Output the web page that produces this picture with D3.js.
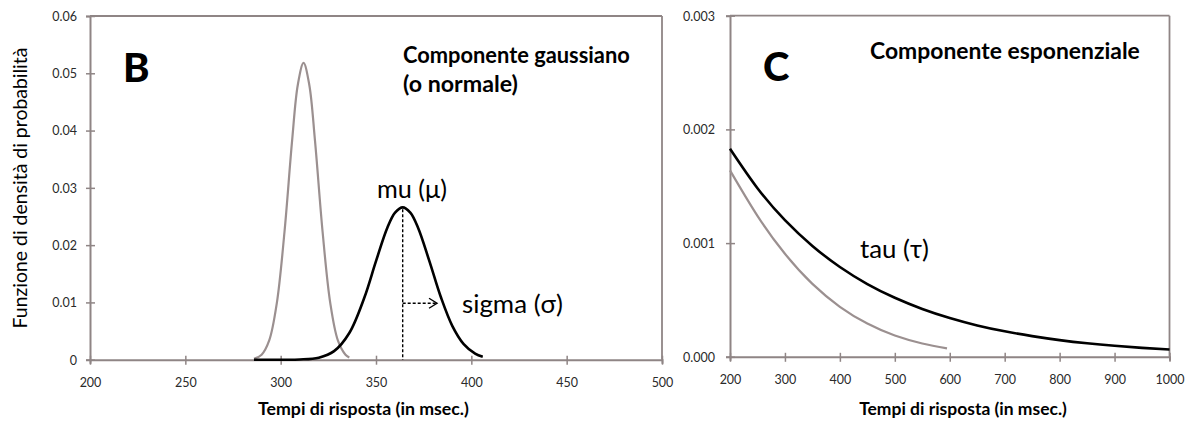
<!DOCTYPE html>
<html><head><meta charset="utf-8">
<script src="https://cdn.jsdelivr.net/npm/d3@7"></script>
<style>body{margin:0;background:#fff} svg{display:block} text{font-family:Lato,'Open Sans',sans-serif}</style>
</head><body><svg id="c" width="1189" height="423"></svg>
<script>
// ---- Panel B data (gaussian component) ----
const gaussGreyX = [286, 290, 294, 298, 302, 306, 309, 312, 315, 318, 322, 326, 330, 334, 336];
const gaussGreyY = [0.00017, 0.00088, 0.00337, 0.00992, 0.02229, 0.03823, 0.04801, 0.0518, 0.04801, 0.03823, 0.02229, 0.00992, 0.00337, 0.00088, 0.0004];
const gaussBlackX = [286, 300, 310, 320, 328, 336, 344, 350, 356, 360, 364, 368, 372, 378, 384, 390, 396, 402, 406];
const gaussBlackY = [0, 0.000003, 0.00004, 0.00036, 0.00149, 0.00466, 0.01094, 0.01721, 0.02307, 0.02567, 0.0266, 0.02567, 0.02307, 0.01721, 0.01094, 0.00592, 0.00273, 0.00107, 0.00053];
const muValue = 364;
const muPeak = 0.0266;
const sigmaArrowEnd = 382;
const sigmaArrowLevel = 0.00985;
const xTicksB = [200, 250, 300, 350, 400, 450, 500];
const yTicksB = [0, 0.01, 0.02, 0.03, 0.04, 0.05, 0.06];
const yTickLabelsB = ["0", "0.01", "0.02", "0.03", "0.04", "0.05", "0.06"];

// ---- Panel C data (exponential component) ----
const expGreyX = [200, 250, 300, 350, 400, 450, 500, 550, 595];
const expGreyY = [0.00164, 0.00124, 0.000906, 0.000641, 0.00044, 0.000292, 0.000187, 0.000117, 0.000074];
const expBlackX = [200, 250, 300, 350, 400, 450, 500, 550, 600, 650, 700, 750, 800, 850, 900, 950, 1000];
const expBlackY = [0.00183, 0.001483, 0.001202, 0.000975, 0.00079, 0.00064, 0.000519, 0.000421, 0.000341, 0.000276, 0.000224, 0.000182, 0.000147, 0.000119, 0.0000968, 0.0000785, 0.0000636];
const xTicksC = [200, 300, 400, 500, 600, 700, 800, 900, 1000];
const yTicksC = [0, 0.001, 0.002, 0.003];
const yTickLabelsC = ["0.000", "0.001", "0.002", "0.003"];

const svg = d3.select("#c");
const AX = "#8f8585", GREY = "#9b9090", TXT = "#2a2a2a";

function fit(sel, w) {
  const fs = parseFloat(sel.attr("font-size"));
  const l = sel.node().getComputedTextLength();
  sel.attr("font-size", fs * w / l);
  return sel;
}

function panel(xs, ys, xt, yt, ytl, yLabelX) {
  const g = svg.append("g");
  const [x0, x1] = xs.range(), [yb, yt0] = ys.range();
  g.append("line").attr("x1", x0).attr("x2", x1).attr("y1", yt0).attr("y2", yt0).attr("stroke", AX).attr("stroke-width", 1.8);
  g.append("line").attr("x1", x1).attr("x2", x1).attr("y1", yt0).attr("y2", yb).attr("stroke", AX).attr("stroke-width", 1.8);
  const ax = g.append("g").attr("transform", `translate(0,${yb})`)
    .call(d3.axisBottom(xs).tickValues(xt).tickSize(4).tickFormat(d3.format("d")));
  const ay = g.append("g").attr("transform", `translate(${x0},0)`)
    .call(d3.axisLeft(ys).tickValues(yt).tickSize(4).tickFormat((d, i) => ytl[i]));
  [ax, ay].forEach(a => {
    a.select(".domain").attr("stroke", AX).attr("stroke-width", 2);
    a.selectAll(".tick line").attr("stroke", AX).attr("stroke-width", 1.5);
    a.selectAll(".tick text").attr("fill", TXT).attr("font-size", 12.5).attr("font-family", "Lato, 'Open Sans', sans-serif");
  });
  ax.selectAll(".tick line").attr("y1", -4).attr("y2", 5);
  ay.selectAll(".tick line").attr("x1", 5).attr("x2", -4);
  ax.selectAll(".tick text").attr("y", 23).attr("dy", "0.35em");
  ay.selectAll(".tick text").attr("x", yLabelX).attr("dy", "0.35em");
  return g;
}

// ---- Panel B ----
const xB = d3.scaleLinear([200, 500], [90, 662]);
const yB = d3.scaleLinear([0, 0.06], [359.7, 16]);
panel(xB, yB, xTicksB, yTicksB, yTickLabelsB, -13);

const lineB = d3.line().x(d => xB(d[0])).y(d => yB(d[1])).curve(d3.curveCatmullRom);
svg.append("path").attr("d", lineB(gaussGreyX.map((x, i) => [x, gaussGreyY[i]])))
  .attr("fill", "none").attr("stroke", GREY).attr("stroke-width", 2.2);
svg.append("path").attr("d", lineB(gaussBlackX.map((x, i) => [x, gaussBlackY[i]])))
  .attr("fill", "none").attr("stroke", "#000").attr("stroke-width", 2.6);

svg.append("line").attr("x1", xB(muValue)).attr("x2", xB(muValue)).attr("y1", yB(muPeak) + 2).attr("y2", yB(0))
  .attr("stroke", "#000").attr("stroke-width", 1.4).attr("stroke-dasharray", "3,2");
const ay0 = yB(sigmaArrowLevel), ax1 = xB(sigmaArrowEnd);
svg.append("line").attr("x1", xB(muValue)).attr("x2", ax1).attr("y1", ay0).attr("y2", ay0)
  .attr("stroke", "#000").attr("stroke-width", 1.4).attr("stroke-dasharray", "3,2");
svg.append("path").attr("d", `M${ax1 - 8},${ay0 - 5}L${ax1},${ay0}L${ax1 - 8},${ay0 + 5}`)
  .attr("fill", "none").attr("stroke", "#000").attr("stroke-width", 1.4);

svg.append("text").text("B").attr("x", 123).attr("y", 82).attr("font-size", 40).attr("font-weight", 900);
fit(svg.append("text").text("Componente gaussiano").attr("x", 403).attr("y", 63).attr("font-size", 20).attr("font-weight", 700), 227);
fit(svg.append("text").text("(o normale)").attr("x", 403).attr("y", 92).attr("font-size", 20).attr("font-weight", 700), 115);
fit(svg.append("text").text("mu (μ)").attr("x", 377).attr("y", 198).attr("font-size", 20), 70);
fit(svg.append("text").text("sigma (σ)").attr("x", 462).attr("y", 313).attr("font-size", 20), 101);
fit(svg.append("text").text("Tempi di risposta (in msec.)").attr("x", 363.5).attr("y", 415).attr("text-anchor", "middle").attr("font-size", 14).attr("font-weight", 700), 211);
fit(svg.append("text").text("Funzione di densità di probabilità").attr("transform", "translate(20,188) rotate(-90)")
  .attr("text-anchor", "middle").attr("dy", "0.35em").attr("font-size", 15), 281);

// ---- Panel C ----
const xC = d3.scaleLinear([200, 1000], [730, 1169.5]);
const yC = d3.scaleLinear([0, 0.003], [356.8, 15.7]);
panel(xC, yC, xTicksC, yTicksC, yTickLabelsC, -15);

const lineC = d3.line().x(d => xC(d[0])).y(d => yC(d[1])).curve(d3.curveNatural);
svg.append("path").attr("d", lineC(expGreyX.map((x, i) => [x, expGreyY[i]])))
  .attr("fill", "none").attr("stroke", GREY).attr("stroke-width", 2.2);
svg.append("path").attr("d", lineC(expBlackX.map((x, i) => [x, expBlackY[i]])))
  .attr("fill", "none").attr("stroke", "#000").attr("stroke-width", 2.6);

svg.append("text").text("C").attr("x", 763).attr("y", 81).attr("font-size", 40).attr("font-weight", 900);
fit(svg.append("text").text("Componente esponenziale").attr("x", 870).attr("y", 59).attr("font-size", 20).attr("font-weight", 700), 270);
fit(svg.append("text").text("tau (τ)").attr("x", 860).attr("y", 258).attr("font-size", 20), 69);
fit(svg.append("text").text("Tempi di risposta (in msec.)").attr("x", 963).attr("y", 415).attr("text-anchor", "middle").attr("font-size", 14).attr("font-weight", 700), 208);
</script></body></html>
